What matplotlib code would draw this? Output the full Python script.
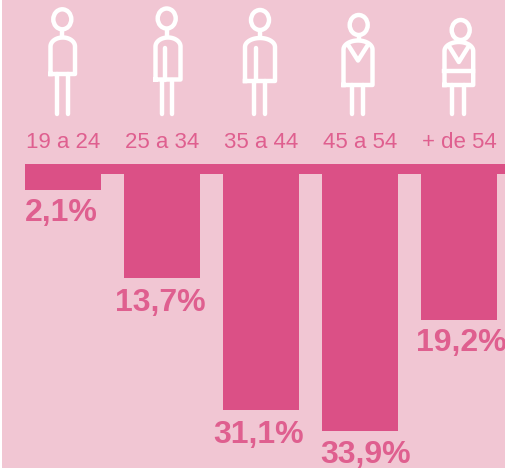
"""
Age distribution bars hanging from a band, with pictograms above
"""

import numpy as np
import matplotlib
matplotlib.use('Agg')
import matplotlib.pyplot as plt
from matplotlib.patches import Ellipse

age_groups = ['19 a 24', '25 a 34', '35 a 44', '45 a 54', '+ de 54']
shares = [2.1, 13.7, 31.1, 33.9, 19.2]
share_labels = ['2,1%', '13,7%', '31,1%', '33,9%', '19,2%']

bg_color = '#F1C6D3'
bar_color = '#DB5086'
text_color = '#DF5F8F'
icon_lw = 3.2

plt.rcParams['font.family'] = ['Liberation Sans', 'DejaVu Sans']

fig = plt.figure(figsize=(5.06, 4.68), dpi=100, facecolor='white')

# pixels per percent point and slot width of one bar
px_per_unit = 7.58
slot = 99.0
x0 = 63.0
y0 = 174.0

ax = fig.add_axes([0, 0, 1, 1])
ax.set_xlim(-x0 / slot, (506 - x0) / slot)
ax.set_ylim((468 - y0) / px_per_unit, -y0 / px_per_unit)
ax.axis('off')

pos = np.arange(len(shares))
ax.bar(pos, shares, width=76 / slot, color=bar_color, linewidth=0, zorder=3)

# band on top of the bars, runs off the right edge
band_left = -38 / slot
ax.fill_between([band_left, (506 - x0) / slot], -10.5 / px_per_unit, 0,
                color=bar_color, linewidth=0, zorder=3)

# small shifts (in px) of value labels, they are not centred in the original
label_dx = [-2, -2, -2, 6, 2]
label_dy = [31, 33.5, 33.5, 32, 31]
for i in pos:
    ax.annotate(share_labels[i], xy=(pos[i], shares[i]),
                xytext=(label_dx[i] * 0.72, -label_dy[i] * 0.72),
                textcoords='offset points', ha='center', va='baseline',
                fontsize=23, fontweight='bold', color=text_color, zorder=4)
    ax.annotate(age_groups[i], xy=(pos[i], 0),
                xytext=(0, 25.5 * 0.72), textcoords='offset points',
                ha='center', va='baseline', fontsize=16,
                color=text_color, zorder=4)

# overlay in pixel coordinates for the pictograms
ov = fig.add_axes([0, 0, 1, 1])
ov.set_xlim(0, 506)
ov.set_ylim(468, 0)
ov.axis('off')
ov.patch.set_alpha(0)


def draw_person(cx, head_y, left, right, top, bottom, leg_l, leg_r,
                arm_x=None, vneck=False, belt_y=None):
    ov.add_patch(Ellipse((cx, head_y), 18.0, 20.0, fill=False, edgecolor='white',
                         linewidth=icon_lw))
    ov.plot([cx, cx], [head_y + 10, top], color='white', lw=icon_lw,
            solid_capstyle='butt')
    # body: rounded shoulders, square hem
    t = np.linspace(np.pi, 0, 30)
    rx = (right - left) / 2.0
    ry = 9.0
    xs = (left + right) / 2.0 + rx * np.cos(t)
    ys = top + ry - ry * np.sin(t)
    xs = np.r_[left, xs, right, left]
    ys = np.r_[bottom, ys, bottom, bottom]
    ov.plot(xs, ys, color='white', lw=icon_lw, solid_joinstyle='round')
    for lx in (leg_l, leg_r):
        ov.plot([lx, lx], [bottom, 114], color='white', lw=icon_lw,
                solid_capstyle='round')
    if arm_x is not None:
        ov.plot([arm_x, arm_x], [48, bottom], color='white', lw=icon_lw,
                solid_capstyle='round')
    if vneck:
        mid = (left + right) / 2.0
        ov.plot([left + 5, mid, right - 5], [top + 5, top + 20, top + 5],
                color='white', lw=icon_lw)
    if belt_y is not None:
        ov.plot([left, right], [belt_y, belt_y], color='white', lw=icon_lw)


draw_person(62.3, 19.3, 50.5, 75, 37.5, 74, 57, 67.7)
draw_person(166.7, 18.5, 155.5, 180.5, 37.5, 79.5, 161.7, 172.3, arm_x=165)
draw_person(260, 20, 245, 275, 38, 81, 254.5, 265, arm_x=256)
draw_person(358.7, 25, 343.5, 372.5, 40.5, 85, 352, 362.7, vneck=True)
draw_person(460.7, 30, 444.5, 473.2, 42, 85, 452.3, 463.7, vneck=True, belt_y=71)

# pink page with the thin white strip on the left
fig.patches.append(plt.Rectangle((2 / 506, 0), 504 / 506, 1, transform=fig.transFigure,
                                 facecolor=bg_color, edgecolor='none', zorder=-1))

plt.savefig('out.png', dpi=100)
